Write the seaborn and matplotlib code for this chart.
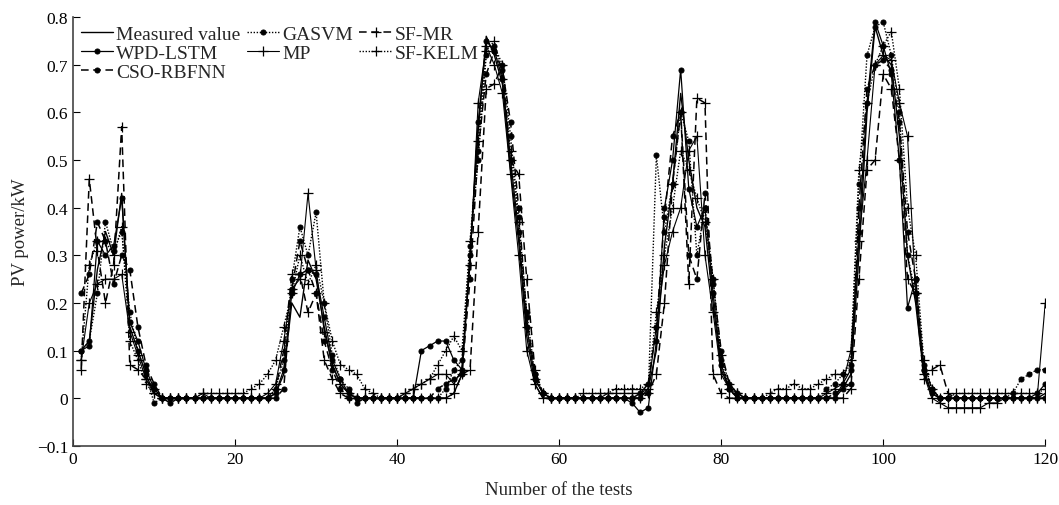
import numpy as np
import pandas as pd
import matplotlib
matplotlib.use("Agg")
import matplotlib.pyplot as plt
import seaborn as sns

tests = list(range(1, 121))

measured = [0.10, 0.12, 0.27, 0.35, 0.30, 0.43, 0.15, 0.10, 0.05, 0.01,
            0, 0, 0, 0, 0, 0, 0, 0, 0, 0,
            0, 0, 0, 0, 0.01, 0.05, 0.20, 0.17, 0.29, 0.25,
            0.15, 0.07, 0.03, 0.01, 0, 0, 0, 0, 0, 0,
            0, 0, 0, 0, 0, 0, 0.01, 0.05, 0.30, 0.56,
            0.76, 0.72, 0.66, 0.48, 0.33, 0.13, 0.03, 0, 0, 0,
            0, 0, 0, 0, 0, 0, 0, 0, 0, 0,
            0.02, 0.10, 0.32, 0.45, 0.64, 0.50, 0.40, 0.36, 0.20, 0.06,
            0.02, 0, 0, 0, 0, 0, 0, 0, 0, 0,
            0, 0, 0, 0, 0.02, 0.05, 0.30, 0.60, 0.78, 0.72,
            0.70, 0.55, 0.30, 0.20, 0.05, 0.01, 0, 0, 0, 0,
            0, 0, 0, 0, 0, 0, 0, 0, 0, 0.01]

wpd_lstm = [0.10, 0.11, 0.33, 0.30, 0.32, 0.42, 0.16, 0.12, 0.06, 0.02,
            0, 0, 0, 0, 0, 0, 0, 0, 0, 0,
            0, 0, 0, 0, 0.01, 0.06, 0.22, 0.26, 0.27, 0.26,
            0.17, 0.08, 0.04, 0.01, 0, 0, 0, 0, 0, 0,
            0, 0, 0.10, 0.11, 0.12, 0.12, 0.08, 0.06, 0.30, 0.58,
            0.75, 0.73, 0.67, 0.50, 0.35, 0.15, 0.04, 0.01, 0, 0,
            0, 0, 0, 0, 0, 0, 0, 0, -0.01, -0.03,
            -0.02, 0.12, 0.40, 0.50, 0.69, 0.44, 0.36, 0.40, 0.22, 0.07,
            0.02, 0, 0, 0, 0, 0, 0, 0, 0, 0,
            0, 0, 0, 0, 0.03, 0.06, 0.35, 0.62, 0.79, 0.74,
            0.68, 0.50, 0.19, 0.25, 0.06, 0.01, 0, 0, 0, 0,
            0, 0, 0, 0, 0, 0, 0, 0, 0.01, 0.03]

cso_rbfnn = [0.22, 0.26, 0.37, 0.33, 0.24, 0.30, 0.27, 0.15, 0.07, 0.03,
             0.0, -0.01, 0, 0, 0, 0, 0, 0, 0, 0,
             0, 0, 0, 0, 0.0, 0.02, 0.23, 0.33, 0.27, 0.22,
             0.12, 0.06, 0.02, 0, -0.01, 0, 0, 0, 0, 0,
             0, 0, 0, 0, 0.02, 0.03, 0.04, 0.05, 0.25, 0.52,
             0.68, 0.73, 0.69, 0.58, 0.40, 0.17, 0.05, 0.01, 0, 0,
             0, 0, 0, 0, 0, 0, 0, 0, 0, 0.01,
             0.03, 0.15, 0.38, 0.55, 0.60, 0.30, 0.25, 0.43, 0.24, 0.10,
             0.03, 0.01, 0, 0, 0, 0, 0, 0, 0, 0,
             0, 0, 0, 0.01, 0.02, 0.03, 0.40, 0.65, 0.70, 0.71,
             0.69, 0.58, 0.35, 0.25, 0.07, 0.02, 0, 0, 0, 0,
             0, 0, 0, 0, 0, 0, 0, 0, 0, 0.0]

gasvm = [0.10, 0.12, 0.22, 0.37, 0.31, 0.35, 0.18, 0.10, 0.05, -0.01,
         0, 0, 0, 0, 0, 0, 0, 0, 0, 0,
         0, 0, 0, 0, 0.02, 0.08, 0.25, 0.36, 0.30, 0.39,
         0.20, 0.09, 0.04, 0.02, 0, 0, 0, 0, 0, 0,
         0, 0, 0, 0, 0, 0.02, 0.06, 0.08, 0.32, 0.50,
         0.72, 0.74, 0.70, 0.55, 0.38, 0.18, 0.05, 0.01, 0, 0,
         0, 0, 0, 0, 0, 0, 0, 0, 0, 0,
         0.01, 0.51, 0.35, 0.45, 0.60, 0.54, 0.30, 0.40, 0.25, 0.08,
         0.02, 0, 0, 0, 0, 0, 0, 0, 0, 0,
         0, 0, 0.02, 0.03, 0.05, 0.07, 0.45, 0.72, 0.78, 0.79,
         0.72, 0.60, 0.30, 0.22, 0.06, 0.02, 0, 0, 0, 0,
         0, 0, 0, 0, 0, 0.01, 0.04, 0.05, 0.06, 0.06]

mp = [0.08, 0.20, 0.24, 0.25, 0.25, 0.26, 0.14, 0.09, 0.04, 0.01,
      0, 0, 0, 0, 0, 0.01, 0, 0, 0, 0,
      0, 0, 0, 0.01, 0.03, 0.12, 0.23, 0.25, 0.43, 0.27,
      0.14, 0.07, 0.03, 0.01, 0, 0, 0, 0, 0, 0,
      0.01, 0.02, 0.03, 0.04, 0.05, 0.05, 0.03, 0.06, 0.28, 0.62,
      0.74, 0.70, 0.64, 0.47, 0.30, 0.10, 0.03, 0, 0, 0,
      0, 0, 0, 0, 0, 0.01, 0.01, 0.01, 0.01, 0.01,
      0.02, 0.15, 0.28, 0.35, 0.40, 0.52, 0.55, 0.30, 0.18, 0.05,
      0.02, 0.01, 0, 0, 0, 0, 0, 0, 0, 0,
      0, 0, 0.01, 0.02, 0.03, 0.10, 0.33, 0.50, 0.70, 0.72,
      0.71, 0.62, 0.55, 0.22, 0.05, 0, -0.01, -0.02, -0.02, -0.02,
      -0.02, -0.02, -0.01, -0.01, 0, 0, 0, 0, 0, 0.20]

sf_mr = [0.06, 0.46, 0.31, 0.20, 0.28, 0.57, 0.07, 0.06, 0.04, 0.02,
         0, 0, 0, 0, 0, 0, 0, 0, 0, 0,
         0, 0, 0, 0, 0.02, 0.10, 0.26, 0.26, 0.18, 0.22,
         0.08, 0.04, 0.01, 0, 0, 0, 0, 0, 0, 0,
         0, 0, 0, 0, 0, 0, 0.01, 0.05, 0.06, 0.35,
         0.65, 0.66, 0.70, 0.50, 0.47, 0.25, 0.06, 0.01, 0, 0,
         0, 0, 0, 0, 0, 0, 0, 0, 0, 0,
         0.01, 0.05, 0.20, 0.45, 0.60, 0.24, 0.63, 0.62, 0.05, 0.01,
         0, 0, 0, 0, 0, 0, 0, 0, 0, 0,
         0, 0, 0, 0, 0, 0.02, 0.25, 0.48, 0.50, 0.68,
         0.65, 0.50, 0.25, 0.22, 0.04, 0.06, 0.07, 0.01, 0, 0,
         0, 0, 0, 0, 0, 0, 0, 0, 0, 0]

sf_kelm = [0.08, 0.28, 0.33, 0.33, 0.30, 0.36, 0.12, 0.08, 0.03, 0.01,
           0, 0, 0, 0, 0, 0.01, 0.01, 0.01, 0.01, 0.01,
           0.01, 0.02, 0.03, 0.05, 0.08, 0.15, 0.22, 0.30, 0.24, 0.28,
           0.20, 0.12, 0.07, 0.06, 0.05, 0.02, 0.01, 0, 0, 0,
           0.01, 0.02, 0.03, 0.04, 0.07, 0.10, 0.13, 0.10, 0.33, 0.54,
           0.73, 0.75, 0.67, 0.52, 0.37, 0.15, 0.04, 0.01, 0, 0,
           0, 0, 0.01, 0.01, 0.01, 0.01, 0.02, 0.02, 0.02, 0.02,
           0.03, 0.18, 0.30, 0.40, 0.52, 0.48, 0.42, 0.37, 0.25, 0.09,
           0.03, 0.01, 0, 0, 0, 0.01, 0.02, 0.02, 0.03, 0.02,
           0.02, 0.03, 0.04, 0.05, 0.05, 0.08, 0.48, 0.62, 0.70, 0.74,
           0.77, 0.65, 0.40, 0.30, 0.08, 0.02, 0, 0, 0.01, 0.01,
           0.01, 0.01, 0.01, 0.01, 0.01, 0.01, 0.01, 0.01, 0.01, 0.02]

series_names = ["Measured value", "WPD-LSTM", "CSO-RBFNN", "GASVM", "MP", "SF-MR", "SF-KELM"]
series_values = [measured, wpd_lstm, cso_rbfnn, gasvm, mp, sf_mr, sf_kelm]
styles = {
    "Measured value": dict(linestyle="-", marker=None, lw=1.0),
    "WPD-LSTM": dict(linestyle="-", marker="o", lw=0.9),
    "CSO-RBFNN": dict(linestyle=(0, (5, 3)), marker="o", lw=1.1),
    "GASVM": dict(linestyle=(0, (1, 1.2)), marker="o", lw=1.0),
    "MP": dict(linestyle="-", marker="+", lw=0.8),
    "SF-MR": dict(linestyle=(0, (5, 3)), marker="+", lw=1.1),
    "SF-KELM": dict(linestyle=(0, (1, 1.2)), marker="+", lw=1.0),
}

sns.set_theme(style="ticks")
plt.rcParams["font.family"] = ["Liberation Serif", "DejaVu Serif"]
plt.rcParams["mathtext.fontset"] = "stix"

fig = plt.figure(figsize=(10.59, 5.06), dpi=100)
ax = fig.add_axes([0.069, 0.117, 0.918, 0.847])

for name, vals in zip(series_names, series_values):
    st = styles[name]
    kw = {}
    if st["marker"] == "o":
        kw = dict(marker="o", markersize=3.6, markerfacecolor="black", markeredgecolor="black")
    elif st["marker"] == "+":
        kw = dict(marker="+", markersize=6.5, markeredgewidth=0.9, markeredgecolor="black")
    sns.lineplot(x=tests, y=vals, ax=ax, color="black", linestyle=st["linestyle"],
                 linewidth=st["lw"], label=name, **kw)

ax.set_xlim(0, 120)
ax.set_ylim(-0.1, 0.8)
ax.set_xticks([0, 20, 40, 60, 80, 100, 120])
yt = [-0.1, 0, 0.1, 0.2, 0.3, 0.4, 0.5, 0.6, 0.7, 0.8]
ax.set_yticks(yt)
ax.set_yticklabels(["\u22120.1", "0", "0.1", "0.2", "0.3", "0.4", "0.5", "0.6", "0.7", "0.8"])
ax.tick_params(direction="in", length=5, width=0.8, labelsize=12.5, colors="black")
for s in ["top", "right"]:
    ax.spines[s].set_visible(False)
for s in ["left", "bottom"]:
    ax.spines[s].set_color("#444444")
    ax.spines[s].set_linewidth(1.2)

ax.set_xlabel("Number of the tests", fontsize=13.5, labelpad=10)
ax.set_ylabel("PV power/kW", fontsize=13.5, labelpad=6)

leg = ax.legend(loc="upper left", bbox_to_anchor=(0.0, 1.0), ncol=3, frameon=False,
                fontsize=14, handlelength=1.65, handletextpad=0.15, labelspacing=0.08,
                columnspacing=0.35, borderaxespad=0.05, borderpad=0.35)

fig.savefig("out.png", dpi=100)
